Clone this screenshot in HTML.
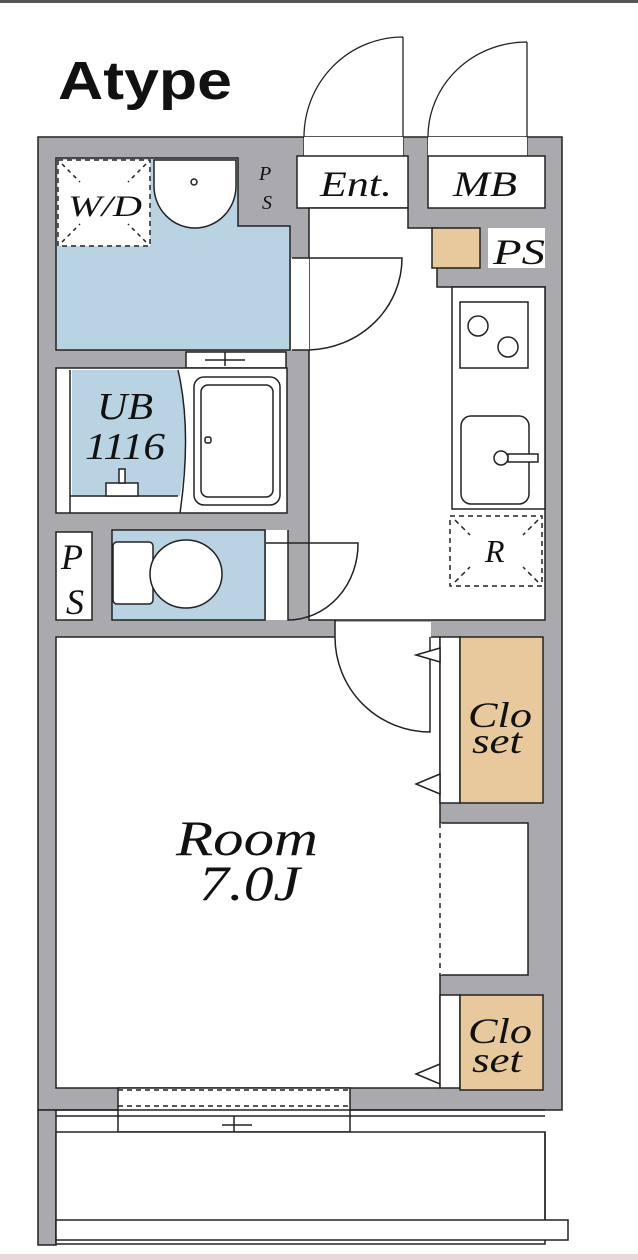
<!DOCTYPE html>
<html><head><meta charset="utf-8"><style>
html,body{margin:0;padding:0;background:#fff;}
svg{display:block;}
text{font-family:"Liberation Serif",serif;font-style:italic;fill:#111;}
</style></head><body>
<svg width="638" height="1260" viewBox="0 0 638 1260" xmlns="http://www.w3.org/2000/svg">
<rect x="0" y="0" width="638" height="3" fill="#555"/>
<rect x="0" y="1254" width="638" height="6" fill="#e8d8dc"/>
<text x="58" y="99" textLength="174" lengthAdjust="spacingAndGlyphs" style="font-family:'Liberation Sans',sans-serif;font-style:normal;font-weight:bold;font-size:54px">Atype</text>

<g stroke="#222" stroke-width="1.5">
<rect x="38" y="137" width="524" height="973" fill="#a9a9ae"/>
<rect x="38" y="1110" width="18" height="135" fill="#a9a9ae"/>
<path d="M304 137 L304 156 M403 37 L403 156 M304 137 A99 100 0 0 1 403 37" fill="none" stroke-width="1.3"/>
<path d="M428 137 L428 156 M527 42 L527 156 M428 137 A99 95 0 0 1 527 42" fill="none" stroke-width="1.3"/>
<rect x="304" y="137" width="99" height="20" fill="#fff" stroke="none"/>
<rect x="428" y="137" width="99" height="20" fill="#fff" stroke="none"/>
<rect x="297" y="156" width="111" height="52" fill="#fff"/>
<rect x="428" y="156" width="117" height="52" fill="#fff"/>
<path d="M309 208 L408 208 L408 228 L437 228 L437 287 L545 287 L545 620 L309 620 Z" fill="#fff"/>
<rect x="432" y="228" width="48" height="40" fill="#e7c99d"/>
<rect x="488" y="228" width="57" height="40" fill="#fff" stroke="none"/>
<rect x="452" y="287" width="93" height="222" fill="#fff"/>
<rect x="460" y="302" width="68" height="66" fill="#fff"/>
<circle cx="478" cy="326" r="10" fill="none"/>
<circle cx="508" cy="347" r="10" fill="none"/>
<rect x="461" y="416" width="68" height="88" rx="10" fill="#fff"/>
<circle cx="501" cy="458" r="7" fill="#fff"/>
<rect x="508" y="454" width="30" height="8" fill="#fff"/>
<rect x="450" y="516" width="92" height="70" fill="#fff" stroke-dasharray="5 4"/>
<path d="M455 520 L470 535 M538 520 L523 535 M455 582 L470 567 M538 582 L523 567" stroke-dasharray="5 4" fill="none"/>
<path d="M56 158 L238 158 L238 226 L290 226 L290 350 L56 350 Z" fill="#b9d3e3"/>
<rect x="58" y="160" width="92" height="86" fill="#fff" stroke-dasharray="5 4"/>
<path d="M62 164 L80 182 M146 164 L128 182 M62 242 L80 224 M146 242 L128 224" stroke-dasharray="4 4" fill="none"/>
<path d="M154 160 L236 160 L236 186 A41 42 0 0 1 154 186 Z" fill="#fff"/>
<circle cx="194" cy="182" r="3" fill="#fff"/>
<rect x="291" y="258" width="18" height="92" fill="#fff" stroke="none"/>
<path d="M292 258 L402 258 A96 92 0 0 1 309 350 L292 350" fill="none"/>
<rect x="186" y="352" width="100" height="16" fill="#fff"/>
<path d="M225 352 L225 366 M205 360 L245 360" fill="none"/>
<rect x="56" y="368" width="231" height="145" fill="#fff"/>
<path d="M72 370 L178 370 Q192 430 180 496 L72 496 Z" fill="#b9d3e3" stroke="none"/>
<line x1="70" y1="370" x2="70" y2="513"/>
<line x1="70" y1="496" x2="178" y2="496"/>
<path d="M178 370 Q192 430 180 513" fill="none"/>
<rect x="194" y="377" width="86" height="128" rx="10" fill="#fff"/>
<rect x="201" y="385" width="72" height="112" rx="7" fill="none"/>
<rect x="205" y="437" width="6" height="6" rx="2" fill="#fff"/>
<rect x="106" y="483" width="32" height="13" fill="#fff"/>
<rect x="119" y="469" width="6" height="14" fill="#fff"/>
<rect x="56" y="532" width="36" height="88" fill="#fff"/>
<rect x="112" y="530" width="153" height="90" fill="#b9d3e3"/>
<rect x="113" y="542" width="40" height="62" rx="4" fill="#fff"/>
<ellipse cx="186" cy="574" rx="36" ry="34" fill="#fff"/>
<rect x="266" y="530" width="22" height="90" fill="#fff" stroke="none"/>
<path d="M266 543 L288 543 M288 530 L288 620 A70 76 0 0 0 358 543 L288 543" fill="none"/>
<rect x="56" y="637" width="384" height="451" fill="#fff"/>
<rect x="335" y="622" width="96" height="16" fill="#fff" stroke="none"/>
<path d="M335 620 L335 637 A95 95 0 0 0 430 732 L430 637" fill="none"/>
<rect x="440" y="637" width="20" height="166" fill="#fff"/>
<rect x="460" y="637" width="83" height="166" fill="#e7c99d"/>
<path d="M440 648 L416 655 L440 662 Z M440 774 L416 784 L440 794 Z M440 1064 L416 1074 L440 1084 Z" fill="#fff"/>
<rect x="440" y="823" width="88" height="152" fill="#fff"/>
<line x1="440" y1="823" x2="440" y2="975" stroke="#fff" stroke-width="3"/>
<line x1="440" y1="823" x2="440" y2="975" stroke-dasharray="5 5"/>
<rect x="440" y="995" width="20" height="93" fill="#fff"/>
<rect x="460" y="995" width="83" height="95" fill="#e7c99d"/>
<rect x="118" y="1088" width="232" height="44" fill="#fff"/>
<path d="M118 1090 L350 1090 M118 1106 L350 1106" stroke-dasharray="5 4" fill="none"/>
<line x1="56" y1="1110" x2="545" y2="1110"/>
<line x1="56" y1="1116" x2="545" y2="1116"/>
<path d="M234 1116 L234 1138 M222 1125 L252 1125" fill="none"/>
<rect x="56" y="1132" width="489" height="112" fill="#fff"/>
<rect x="56" y="1220" width="512" height="20" fill="#fff"/>
<line x1="545" y1="1132" x2="545" y2="1220"/>
</g>

<g>
<text x="68" y="216" font-size="30" textLength="74" lengthAdjust="spacingAndGlyphs">W/D</text>
<text x="259" y="180" font-size="20">P</text>
<text x="262" y="209" font-size="20">S</text>
<text x="320" y="196" font-size="36" textLength="72" lengthAdjust="spacingAndGlyphs">Ent.</text>
<text x="453" y="196" font-size="36" textLength="64" lengthAdjust="spacingAndGlyphs">MB</text>
<text x="493" y="264" font-size="36" textLength="52" lengthAdjust="spacingAndGlyphs">PS</text>
<text x="97" y="419" font-size="38" textLength="56" lengthAdjust="spacingAndGlyphs">UB</text>
<text x="85" y="459" font-size="38" textLength="80" lengthAdjust="spacingAndGlyphs">1116</text>
<text x="61" y="569" font-size="36">P</text>
<text x="66" y="614" font-size="36">S</text>
<text x="485" y="562" font-size="32">R</text>
<text x="468" y="727" font-size="36" textLength="64" lengthAdjust="spacingAndGlyphs">Clo</text>
<text x="472" y="753" font-size="36" textLength="50" lengthAdjust="spacingAndGlyphs">set</text>
<text x="468" y="1043" font-size="36" textLength="64" lengthAdjust="spacingAndGlyphs">Clo</text>
<text x="472" y="1072" font-size="36" textLength="50" lengthAdjust="spacingAndGlyphs">set</text>
<text x="176" y="855" font-size="50" textLength="142" lengthAdjust="spacingAndGlyphs">Room</text>
<text x="199" y="900" font-size="50" textLength="101" lengthAdjust="spacingAndGlyphs">7.0J</text>
</g>
</svg>
</body></html>
